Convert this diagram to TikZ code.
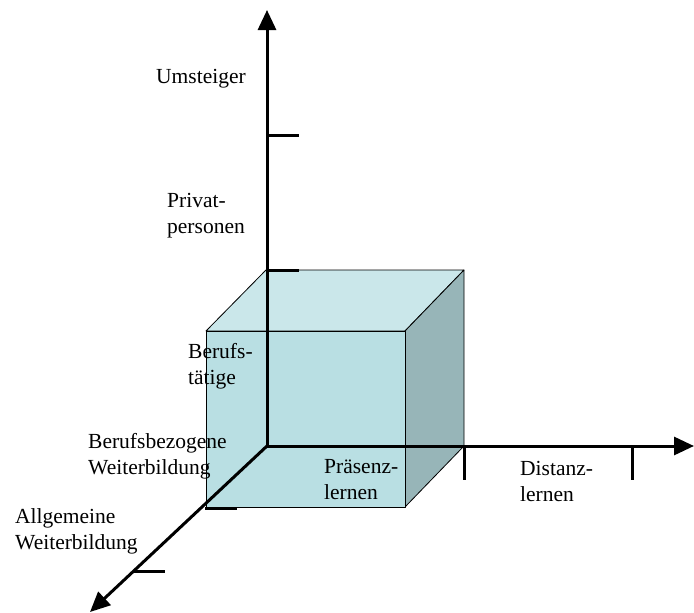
\documentclass[tikz,border=0pt]{standalone}
\usepackage{fontspec}
\setmainfont{Liberation Serif}
\usetikzlibrary{arrows.meta}
\definecolor{frontface}{RGB}{185,223,227}
\definecolor{topface}{RGB}{202,231,234}
\definecolor{sideface}{RGB}{151,181,184}
\tikzset{
  axis/.style={line width=3pt, -{Triangle[length=20pt,width=18pt]}},
  tick/.style={line width=3pt},
  edge/.style={draw=black, line width=0.8pt, line join=round},
  % base west of a multi-line node sits on the baseline of its last line
  label/.style={anchor=base west, align=left, inner sep=0pt,
    font=\fontsize{21.5}{26}\selectfont},
}
\begin{document}
\begin{tikzpicture}[x=1pt, y=-1pt]
\useasboundingbox (0,0) rectangle (694,613);

% cube corners: back face (b..) and front face (f..)
\coordinate (btl) at (266,270);
\coordinate (btr) at (464,270);
\coordinate (bbr) at (464,446);
\coordinate (ftl) at (206,331);
\coordinate (ftr) at (405,331);
\coordinate (fbr) at (405,507);
\coordinate (fbl) at (206,507);

% cube faces
\filldraw[edge, fill=topface] (ftl) -- (btl) -- (btr) -- (ftr) -- cycle;
\filldraw[edge, fill=sideface] (ftr) -- (btr) -- (bbr) -- (fbr) -- cycle;
\filldraw[edge, fill=frontface] (ftl) -- (ftr) -- (fbr) -- (fbl) -- cycle;

% axes
\coordinate (O) at (267,446);
\coordinate (ytip) at (267,10);
\coordinate (xtip) at (694,446);
\coordinate (ztip) at (90,612);
\draw[axis] (O) -- (ytip);
\draw[axis] (O) -- (xtip);
\draw[axis] (O) -- (ztip);

% tick marks
\coordinate (y1) at (267,270);
\coordinate (y2) at (267,135);
\coordinate (x1) at (464,446);
\coordinate (x2) at (632,446);
\coordinate (z1) at (205,508);
\coordinate (z2) at (133,571);
\draw[tick] (y1) -- ++(32,0);
\draw[tick] (y2) -- ++(32,0);
\draw[tick] (x1) -- ++(0,34);
\draw[tick] (x2) -- ++(0,34);
\draw[tick] (z1) -- ++(32,0);
\draw[tick] (z2) -- ++(32,0);

% labels
\node[label] (umst) at (156,83) {Umsteiger};
\node[label] (priv) at (167,233) {Privat-\\personen};
\node[label] (beruf) at (188,384) {Berufs-\\tätige};
\node[label] (bbez) at (88,474) {Berufsbezogene\\Weiterbildung};
\node[label] (allg) at (15,549) {Allgemeine\\Weiterbildung};
\node[label] (praes) at (324,499) {Präsenz-\\lernen};
\node[label] (dist) at (520,501) {Distanz-\\lernen};
\end{tikzpicture}
\end{document}
